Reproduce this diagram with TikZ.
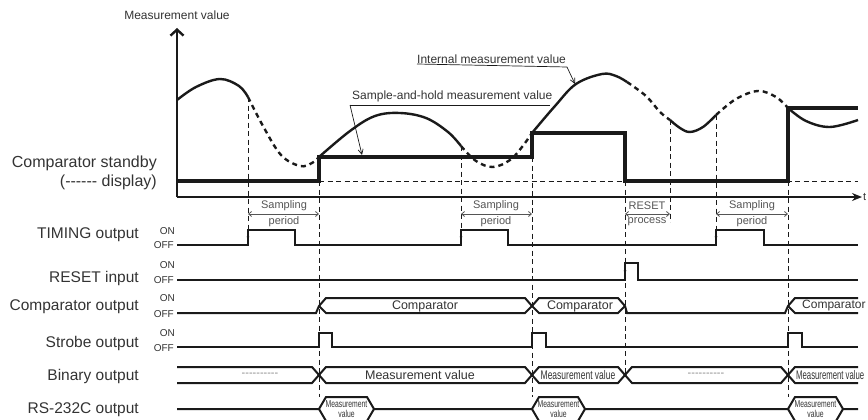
\documentclass[tikz,border=0pt]{standalone}
\usepackage{fontspec}
\setmainfont{Liberation Sans}
\newfontfamily\narrowfont[FakeStretch=0.68]{Liberation Sans}
\newfontfamily\narrowerfont[FakeStretch=0.62]{Liberation Sans}
\usetikzlibrary{arrows.meta}
\definecolor{ink}{HTML}{1A1A1A}
\definecolor{txt}{HTML}{333333}
\definecolor{soft}{HTML}{555555}
\begin{document}
\begin{tikzpicture}[x=1pt,y=-1pt,
 sig/.style={draw=ink,line width=2.2pt,line join=miter},
 bus/.style={draw=ink,line width=2pt,line join=miter},
 hold/.style={draw=ink,line width=3.4pt,line join=miter},
 wave/.style={draw=ink,line width=2.4pt},
 wavedash/.style={draw=ink,line width=2.4pt,dash pattern=on 5pt off 4pt},
 guide/.style={draw=ink,line width=0.8pt,dash pattern=on 5pt off 3.5pt},
 leader/.style={draw=ink,line width=0.7pt},
 span/.style={draw=soft,line width=0.8pt,{Straight Barb[length=3pt,width=5pt]}-{Straight Barb[length=3pt,width=5pt]}},
 edgetip/.style={draw=ink,line width=0.6pt,-{Latex[length=3pt,width=3pt]}},
 big/.style={font=\fontsize{16}{18}\selectfont,text=txt,inner sep=0pt,anchor=east},
 rowlbl/.style={font=\fontsize{15.5}{17}\selectfont,text=txt,inner sep=0pt,anchor=east},
 onoff/.style={font=\fontsize{10}{11}\selectfont,text=txt,inner sep=0pt,anchor=east},
 small/.style={font=\fontsize{11}{12}\selectfont,text=soft,inner sep=0pt},
 note/.style={font=\fontsize{12}{13}\selectfont,text=txt,inner sep=0pt},
 bustxt/.style={font=\fontsize{12.5}{14}\selectfont,text=txt,inner sep=0pt},
 narrowtxt/.style={font=\narrowfont\fontsize{12.5}{14}\selectfont,text=txt,inner sep=0pt},
 hextxt/.style={font=\narrowfont\fontsize{10}{10}\selectfont,text=txt,inner sep=0pt,align=center},
 dashtxt/.style={font=\fontsize{11}{12}\selectfont,text=soft!70,inner sep=0pt}
]
\useasboundingbox (0,0) rectangle (868,420);

% ---------- axes ----------
\coordinate (o) at (177,197);
\coordinate (ytop) at (177,28);
\coordinate (xend) at (862,197);
\draw[ink,line width=2.4pt,-{Straight Barb[length=6pt,width=13pt,line width=2.4pt]}] (o) -- (ytop);
\draw[ink,line width=2.4pt,-{Stealth[length=10pt,width=8pt]}] (o) -- (xend);
\node[font=\fontsize{12}{13}\selectfont,text=txt,inner sep=0pt] (ylab) at (177,15) {Measurement value};
\node[font=\fontsize{11}{12}\selectfont,text=txt,inner sep=0pt,anchor=west] (tlab) at (863,197) {t};

% ---------- guide lines ----------
\draw[guide] (248,97) -- (248,230);
\draw[guide] (319,181) -- (319,397);
\draw[guide] (461,146) -- (461,230);
\draw[guide] (532,157) -- (532,397);
\draw[guide] (625,181) -- (625,375);
\draw[guide] (670,120) -- (670,222);
\draw[guide] (716,115) -- (716,230);
\draw[guide] (788,181) -- (788,397);
\draw[guide] (319,181) -- (858,181);

% ---------- internal measurement curve ----------
\draw[wave] plot[smooth,tension=0.6] coordinates {(177,100) (196,87) (220,79) (239,86) (248,97)};
\draw[wavedash] plot[smooth,tension=0.6] coordinates {(248,97) (263,126) (281,155) (300,166) (312,163) (319,157)};
\draw[wave] plot[smooth,tension=0.6] coordinates {(319,157) (350,131) (375,116) (400,113) (426,118) (448,132) (461,146)};
\draw[wavedash] plot[smooth,tension=0.6] coordinates {(461,146) (476,161) (493,167) (510,160) (522,147) (532,133)};
\draw[wave] plot[smooth,tension=0.6] coordinates {(532,133) (555,106) (576,84) (602,74) (616,76) (627,82)};
\draw[wavedash] plot[smooth,tension=0.6] coordinates {(627,82) (646,96) (660,112) (670,120)};
\draw[wave] plot[smooth,tension=0.6] coordinates {(670,120) (680,128) (690,132) (703,127) (716,115)};
\draw[wavedash] plot[smooth,tension=0.6] coordinates {(716,115) (736,99) (758,91) (776,97) (788,108)};
\draw[wave] plot[smooth,tension=0.6] coordinates {(788,108) (806,121) (830,127) (858,120)};

% ---------- sample-and-hold value ----------
\draw[hold] (177,181) -- (319,181) -- (319,157) -- (532,157) -- (532,133) -- (625,133) -- (625,181) -- (788,181) -- (788,108) -- (858,108);

\node[big] (cs1) at (157,163) {Comparator standby};
\node[big] (cs2) at (157,182) {(-{}-{}-{}-{}-{}- display)};

% ---------- annotations ----------
\node[note,anchor=south west] (intl) at (417,64) {Internal measurement value};
\draw[leader] (intl.south west) -- (567,67) coordinate (intk);
\coordinate (intp) at (575,84);
\draw[leader,-{Straight Barb[length=5pt,width=5pt]}] (intk) -- (intp);

\node[note,anchor=south west] (shl) at (352,102) {Sample-and-hold measurement value};
\coordinate (shs) at (350,105);
\draw[leader] (shs) -- (550,105);
\coordinate (shp) at (362,155);
\draw[leader,-{Straight Barb[length=5pt,width=5pt]}] (shs) -- (shp);

% ---------- period marks ----------
\draw[span] (248,214) -- (319,214);
\node[small] (sp1a) at (284,206) {Sampling};
\node[small] (sp1b) at (284,222) {period};
\draw[span] (461,214) -- (532,214);
\node[small] (sp2a) at (496,206) {Sampling};
\node[small] (sp2b) at (496,222) {period};
\draw[span] (625,214) -- (670,214);
\node[small] (rpa) at (647,206) {RESET};
\node[small] (rpb) at (647,222) {process};
\draw[span] (716,214) -- (788,214);
\node[small] (sp3a) at (752,206) {Sampling};
\node[small] (sp3b) at (752,222) {period};

% ---------- row labels ----------
\node[rowlbl] (l1) at (139,235) {TIMING output};
\node[rowlbl] (l2) at (139,278) {RESET input};
\node[rowlbl] (l3) at (139,307) {Comparator output};
\node[rowlbl] (l4) at (139,343) {Strobe output};
\node[rowlbl] (l5) at (139,376) {Binary output};
\node[rowlbl] (l6) at (139,410) {RS-232C output};

\node[onoff] (on1) at (175,231) {ON};  \node[onoff] (off1) at (174,245) {OFF};
\node[onoff] (on2) at (175,265) {ON};  \node[onoff] (off2) at (174,280) {OFF};
\node[onoff] (on3) at (175,298) {ON};  \node[onoff] (off3) at (174,314) {OFF};
\node[onoff] (on4) at (175,333) {ON};  \node[onoff] (off4) at (174,348) {OFF};

% ---------- TIMING output ----------
\draw[sig] (177,245) -- (248,245) -- (248,230) -- (295,230) -- (295,245) -- (461,245) -- (461,230) -- (508,230) -- (508,245)
  -- (716,245) -- (716,230) -- (764,230) -- (764,245) -- (858,245);
\draw[edgetip] (248,240) -- (248,234);
\draw[edgetip] (461,240) -- (461,234);
\draw[edgetip] (716,240) -- (716,234);

% ---------- RESET input ----------
\draw[sig] (177,280) -- (625,280) -- (625,263) -- (638,263) -- (638,280) -- (858,280);
\draw[edgetip] (625,276) -- (625,268);

% ---------- Comparator output ----------
\draw[bus] (177,313) -- (316,313) -- (319,306) -- (326,298) -- (525,298) -- (532,306) -- (539,298) -- (618,298) -- (625,306) -- (627,313) -- (785,313) -- (788,306) -- (795,298) -- (858,298);
\draw[bus] (319,306) -- (326,313) -- (525,313) -- (532,306) -- (539,313) -- (618,313) -- (625,306);
\draw[bus] (788,306) -- (795,313) -- (858,313);
\node[bustxt] (c1) at (425,306) {Comparator};
\node[bustxt] (c2) at (580,306) {Comparator};
\node[bustxt,font=\fontsize{12}{14}\selectfont,anchor=west] (c3) at (802,306) {Comparator};

% ---------- Strobe output ----------
\draw[sig] (177,347) -- (319,347) -- (319,333) -- (332,333) -- (332,347) -- (532,347) -- (532,333) -- (546,333) -- (546,347)
  -- (788,347) -- (788,333) -- (802,333) -- (802,347) -- (858,347);

% ---------- Binary output ----------
\draw[bus] (177,367) -- (312,367) -- (319,375) -- (326,367) -- (525,367) -- (532,375) -- (539,367) -- (618,367) -- (625,375) -- (632,367) -- (781,367) -- (788,375) -- (795,367) -- (858,367);
\draw[bus] (177,383) -- (312,383) -- (319,375) -- (326,383) -- (525,383) -- (532,375) -- (539,383) -- (618,383) -- (625,375) -- (632,383) -- (781,383) -- (788,375) -- (795,383) -- (858,383);
\node[dashtxt] (b1) at (260,375) {-{}-{}-{}-{}-{}-{}-{}-{}-{}-};
\node[bustxt] (b2) at (420,375) {Measurement value};
\node[narrowtxt] (b3) at (578,375) {Measurement value};
\node[dashtxt] (b4) at (706,375) {-{}-{}-{}-{}-{}-{}-{}-{}-{}-};
\node[narrowtxt,font=\narrowerfont\fontsize{12.5}{14}\selectfont,anchor=west] (b5) at (796,375) {Measurement value};

% ---------- RS-232C output ----------
\draw[bus] (177,409) -- (319,409) -- (326,397) -- (367,397) -- (374,409) -- (532,409) -- (539,397) -- (578,397) -- (585,409) -- (788,409) -- (795,397) -- (836,397) -- (843,409) -- (858,409);
\draw[bus] (319,409) -- (326,421) -- (367,421) -- (374,409);
\draw[bus] (532,409) -- (539,421) -- (578,421) -- (585,409);
\draw[bus] (788,409) -- (795,421) -- (836,421) -- (843,409);
\node[hextxt] (r1) at (346.5,409) {Measurement\\value};
\node[hextxt] (r2) at (558.5,409) {Measurement\\value};
\node[hextxt] (r3) at (815.5,409) {Measurement\\value};
\end{tikzpicture}
\end{document}
